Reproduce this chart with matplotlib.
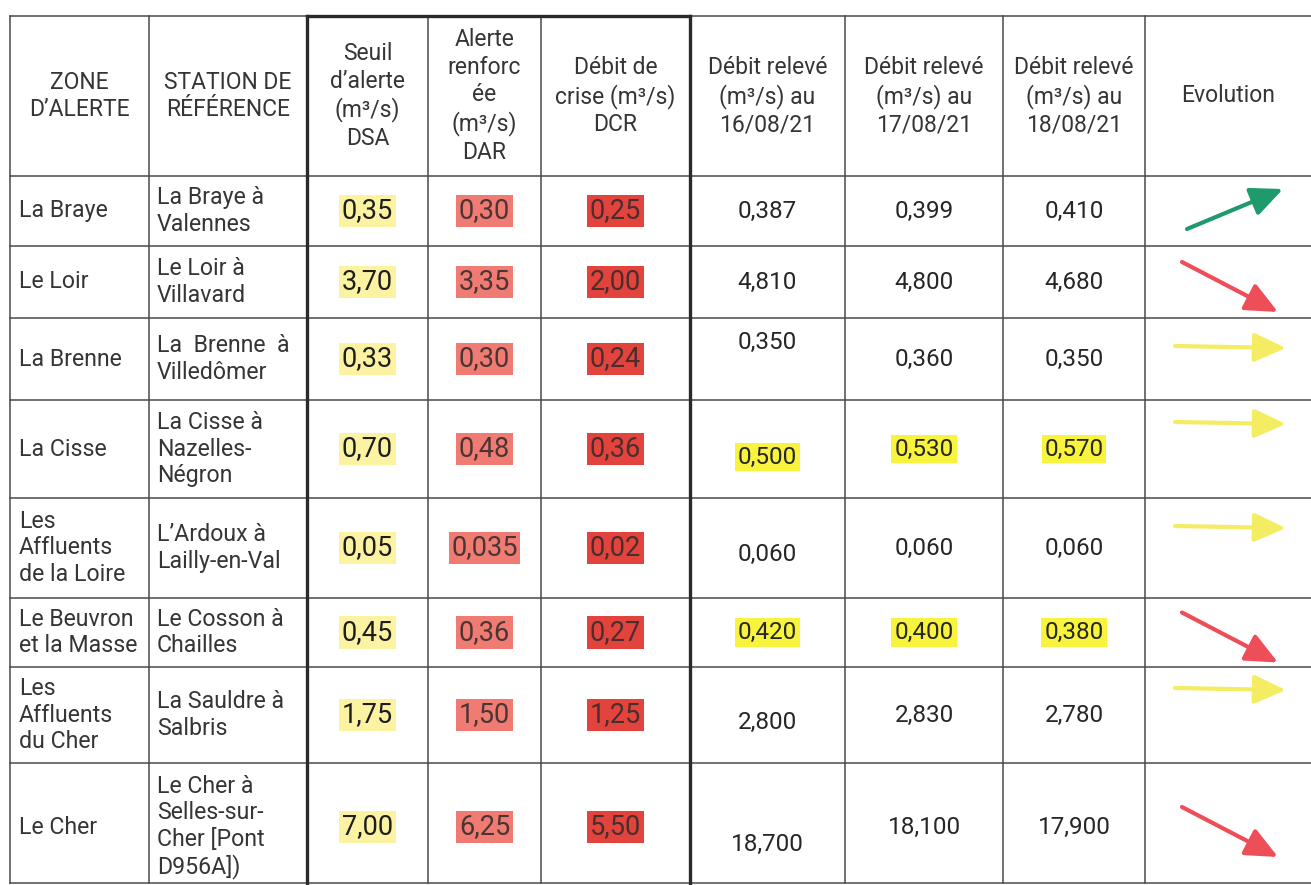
import matplotlib.pyplot as plt

plt.rcParams['font.family'] = ['Roboto', 'DejaVu Sans']

# En-têtes
headers = ["ZONE\nD’ALERTE", "STATION DE\nRÉFÉRENCE",
           "Seuil\nd’alerte\n(m³/s)\nDSA", "Alerte\nrenforc\née\n(m³/s)\nDAR",
           "Débit de\ncrise (m³/s)\nDCR",
           "Débit relevé\n(m³/s) au\n16/08/21", "Débit relevé\n(m³/s) au\n17/08/21",
           "Débit relevé\n(m³/s) au\n18/08/21", "Evolution"]

# Données
zones = ["La Braye", "Le Loir", "La Brenne", "La Cisse", "Les\nAffluents\nde la Loire",
         "Le Beuvron\net la Masse", "Les\nAffluents\ndu Cher", "Le Cher"]
stations = ["La Braye à\nValennes", "Le Loir à\nVillavard", "La  Brenne  à\nVilledômer",
            "La Cisse à\nNazelles-\nNégron", "L’Ardoux à\nLailly-en-Val",
            "Le Cosson à\nChailles", "La Sauldre à\nSalbris",
            "Le Cher à\nSelles-sur-\nCher [Pont\nD956A])"]
dsa = [0.35, 3.70, 0.33, 0.70, 0.05, 0.45, 1.75, 7.00]
dar = [0.30, 3.35, 0.30, 0.48, 0.035, 0.36, 1.50, 6.25]
dcr = [0.25, 2.00, 0.24, 0.36, 0.02, 0.27, 1.25, 5.50]
debit_16 = [0.387, 4.810, 0.350, 0.500, 0.060, 0.420, 2.800, 18.700]
debit_17 = [0.399, 4.800, 0.360, 0.530, 0.060, 0.400, 2.830, 18.100]
debit_18 = [0.410, 4.680, 0.350, 0.570, 0.060, 0.380, 2.780, 17.900]
evolution = ["up", "down", "flat", "flat", "flat", "down", "flat", "down"]

# Mise en page (pixels)
col_x = [10, 149, 307, 428, 541, 690, 845, 1003, 1145, 1311]
row_y = [16, 176, 246, 318, 400, 498, 598, 667, 763, 883]
row_nudge = [0, 0, 0, 0, 0, 0, 0, 4]
nudge_16 = [0, 0, -17, 8, 6, 0, 7, 17]
arrow_nudge = [0, 0, 8, -6, -1, 0, -6, 0]

txt_col = "#353535"
num_col = "#262626"
pale_yellow = "#fbf3a2"
salmon = "#ef7b72"
red = "#e3433d"
bright_yellow = "#f8f33c"
arrow_col = {"up": "#1e9a6c", "down": "#ee4e58", "flat": "#f4ec62"}


def fmt(v, dec):
    s = f"{v:.{dec}f}"
    if dec == 2 and round(v, 2) != v:
        s = f"{v:.3f}"
    return s.replace(".", ",")


fig = plt.figure(figsize=(13.11, 8.85), dpi=100)
ax = fig.add_axes([0, 0, 1, 1])
ax.set_xlim(0, 1311)
ax.set_ylim(885, 0)
ax.axis("off")

# Grille
for y in row_y:
    ax.plot([col_x[0], col_x[-1]], [y, y], color="#4a4a4a", lw=1.1)
for x in col_x[:-1]:
    ax.plot([x, x], [row_y[0], row_y[-1]], color="#4a4a4a", lw=1.1)
for x in (col_x[2], col_x[5]):
    ax.plot([x, x], [row_y[0], row_y[-1]], color="#2a2a2a", lw=2.4)
ax.plot([col_x[2], col_x[5]], [row_y[0], row_y[0]], color="#2a2a2a", lw=2.4)

centers = [(col_x[i] + col_x[i + 1]) / 2 for i in range(len(col_x) - 1)]
hy = (row_y[0] + row_y[1]) / 2

for cx, h in zip(centers, headers):
    ax.text(cx, hy, h, ha="center", va="center", fontsize=16.5, color=txt_col,
            linespacing=1.25)

for i in range(len(zones)):
    cy = (row_y[i + 1] + row_y[i + 2]) / 2 + row_nudge[i]
    ax.text(col_x[0] + 9, cy, zones[i], ha="left", va="center", fontsize=16.7,
            color=txt_col, linespacing=1.18)
    ax.text(col_x[1] + 8, cy, stations[i], ha="left", va="center", fontsize=16.7,
            color=txt_col, linespacing=1.18)

    ax.text(centers[2], cy, fmt(dsa[i], 2), ha="center", va="center", fontsize=19.5,
            color="#1e1e1e",
            bbox=dict(boxstyle="square,pad=0.1", fc=pale_yellow, ec="none"))
    ax.text(centers[3], cy, fmt(dar[i], 2), ha="center", va="center", fontsize=19.5,
            color="#4a3434",
            bbox=dict(boxstyle="square,pad=0.1", fc=salmon, ec="none"))
    ax.text(centers[4], cy, fmt(dcr[i], 2), ha="center", va="center", fontsize=19.5,
            color="#4a2e2e",
            bbox=dict(boxstyle="square,pad=0.1", fc=red, ec="none"))

    for j, serie in enumerate([debit_16, debit_17, debit_18]):
        v = serie[i]
        dy = nudge_16[i] if j == 0 else 0
        box = None
        if v < dsa[i]:
            box = dict(boxstyle="square,pad=0.12", fc=bright_yellow, ec="none")
        ax.text(centers[5 + j], cy + dy, fmt(v, 3), ha="center", va="center",
                fontsize=17.5, color=num_col, bbox=box)

    d = evolution[i]
    ay = cy + arrow_nudge[i]
    if d == "up":
        start, tip = (1187, ay + 18), (1283, ay - 22)
    elif d == "down":
        start, tip = (1182, ay - 20), (1278, ay + 30)
    else:
        start, tip = (1175, ay - 21), (1286, ay - 19)
    ax.annotate("", xy=tip, xytext=start,
                arrowprops=dict(arrowstyle="-|>,head_length=0.75,head_width=0.34",
                                color=arrow_col[d], lw=3, mutation_scale=26,
                                shrinkA=0, shrinkB=0))

fig.savefig("out.png", dpi=100)
